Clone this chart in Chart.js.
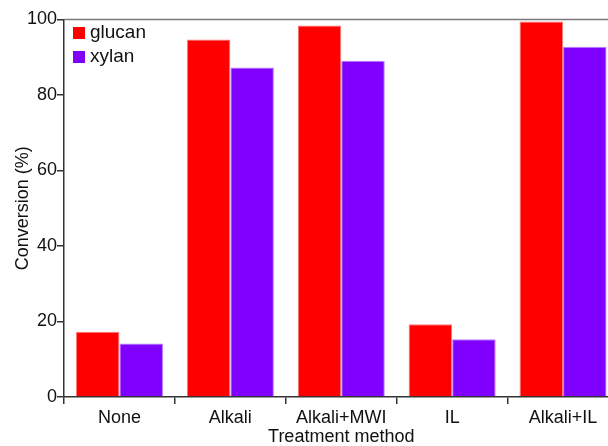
<!DOCTYPE html>
<html>
<head>
<meta charset="utf-8">
<script src="https://cdn.jsdelivr.net/npm/chart.js@4"></script>
<style>
  html, body { margin: 0; padding: 0; background: #fff; overflow: hidden; }
  #wrap { width: 608px; height: 446px; overflow: hidden; }
</style>
</head>
<body>
<div id="wrap"><canvas id="grafico" width="630" height="446"></canvas></div>
<script>
// dados
const categories = ['None', 'Alkali', 'Alkali+MWI', 'IL', 'Alkali+IL'];
const glucan = [17.3, 94.7, 98.4, 19.3, 99.5];
const xylan = [14.2, 87.3, 89.1, 15.3, 92.8];
const yTicks = [0, 20, 40, 60, 80, 100];

const fontFamily = '"Liberation Sans", Arial, sans-serif';
const textColor = '#111';

// legenda dentro da área do gráfico + linha de cima
const extras = {
    id: 'extras',
    afterDraw(chart) {
        const ctx = chart.ctx;
        const area = chart.chartArea;
        ctx.save();
        ctx.strokeStyle = '#7a7a7a';
        ctx.lineWidth = 1.4;
        ctx.beginPath();
        ctx.moveTo(area.left, area.top);
        ctx.lineTo(area.right, area.top);
        ctx.stroke();

        ctx.font = '19px ' + fontFamily;
        ctx.textBaseline = 'middle';
        chart.data.datasets.forEach((ds, i) => {
            const y = area.top + 13.5 + i * 24;
            ctx.fillStyle = ds.backgroundColor;
            ctx.fillRect(area.left + 9, y - 6, 12, 12);
            ctx.fillStyle = textColor;
            ctx.fillText(ds.label, area.left + 26, y);
        });
        ctx.restore();
    }
};

const ctx = document.getElementById('grafico').getContext('2d');
const myChart = new Chart(ctx, {
    type: 'bar',
    data: {
        labels: categories,
        datasets: [{
            label: 'glucan',
            data: glucan,
            backgroundColor: '#ff0000',
            borderColor: '#ff7a7a',
            borderWidth: 1
        }, {
            label: 'xylan',
            data: xylan,
            backgroundColor: '#7f00ff',
            borderColor: '#b580ff',
            borderWidth: 1
        }]
    },
    options: {
        responsive: false,
        animation: false,
        layout: { padding: { top: 19.5, right: 11.5, left: 0, bottom: 0 } },
        plugins: {
            legend: { display: false },
            tooltip: { enabled: false }
        },
        datasets: {
            bar: { categoryPercentage: 0.785, barPercentage: 1 }
        },
        scales: {
            x: {
                offset: true,
                grid: {
                    offset: true,
                    drawOnChartArea: false,
                    drawTicks: true,
                    tickLength: 7,
                    color: '#333',
                    lineWidth: 1.5
                },
                border: { color: '#333', width: 1.5 },
                ticks: {
                    color: textColor,
                    padding: 3,
                    font: { family: fontFamily, size: 18 }
                },
                title: {
                    display: true,
                    text: 'Treatment method',
                    color: textColor,
                    padding: { top: 0, bottom: 0 },
                    font: { family: fontFamily, size: 18, lineHeight: 1.0 }
                },
                afterFit(scale) { scale.height = 49; }
            },
            y: {
                min: 0,
                max: 100,
                afterBuildTicks(scale) {
                    scale.ticks = yTicks.map(v => ({ value: v }));
                },
                grid: {
                    drawOnChartArea: false,
                    drawTicks: true,
                    tickLength: 7,
                    color: '#333',
                    lineWidth: 1.5
                },
                border: { color: '#333', width: 1.5 },
                ticks: {
                    color: textColor,
                    padding: 0,
                    font: { family: fontFamily, size: 18 }
                },
                title: {
                    display: true,
                    text: 'Conversion (%)',
                    color: textColor,
                    padding: { top: 12, bottom: 0 },
                    font: { family: fontFamily, size: 18 }
                },
                afterFit(scale) { scale.width = 64; }
            }
        }
    },
    plugins: [extras]
});
</script>
</body>
</html>
